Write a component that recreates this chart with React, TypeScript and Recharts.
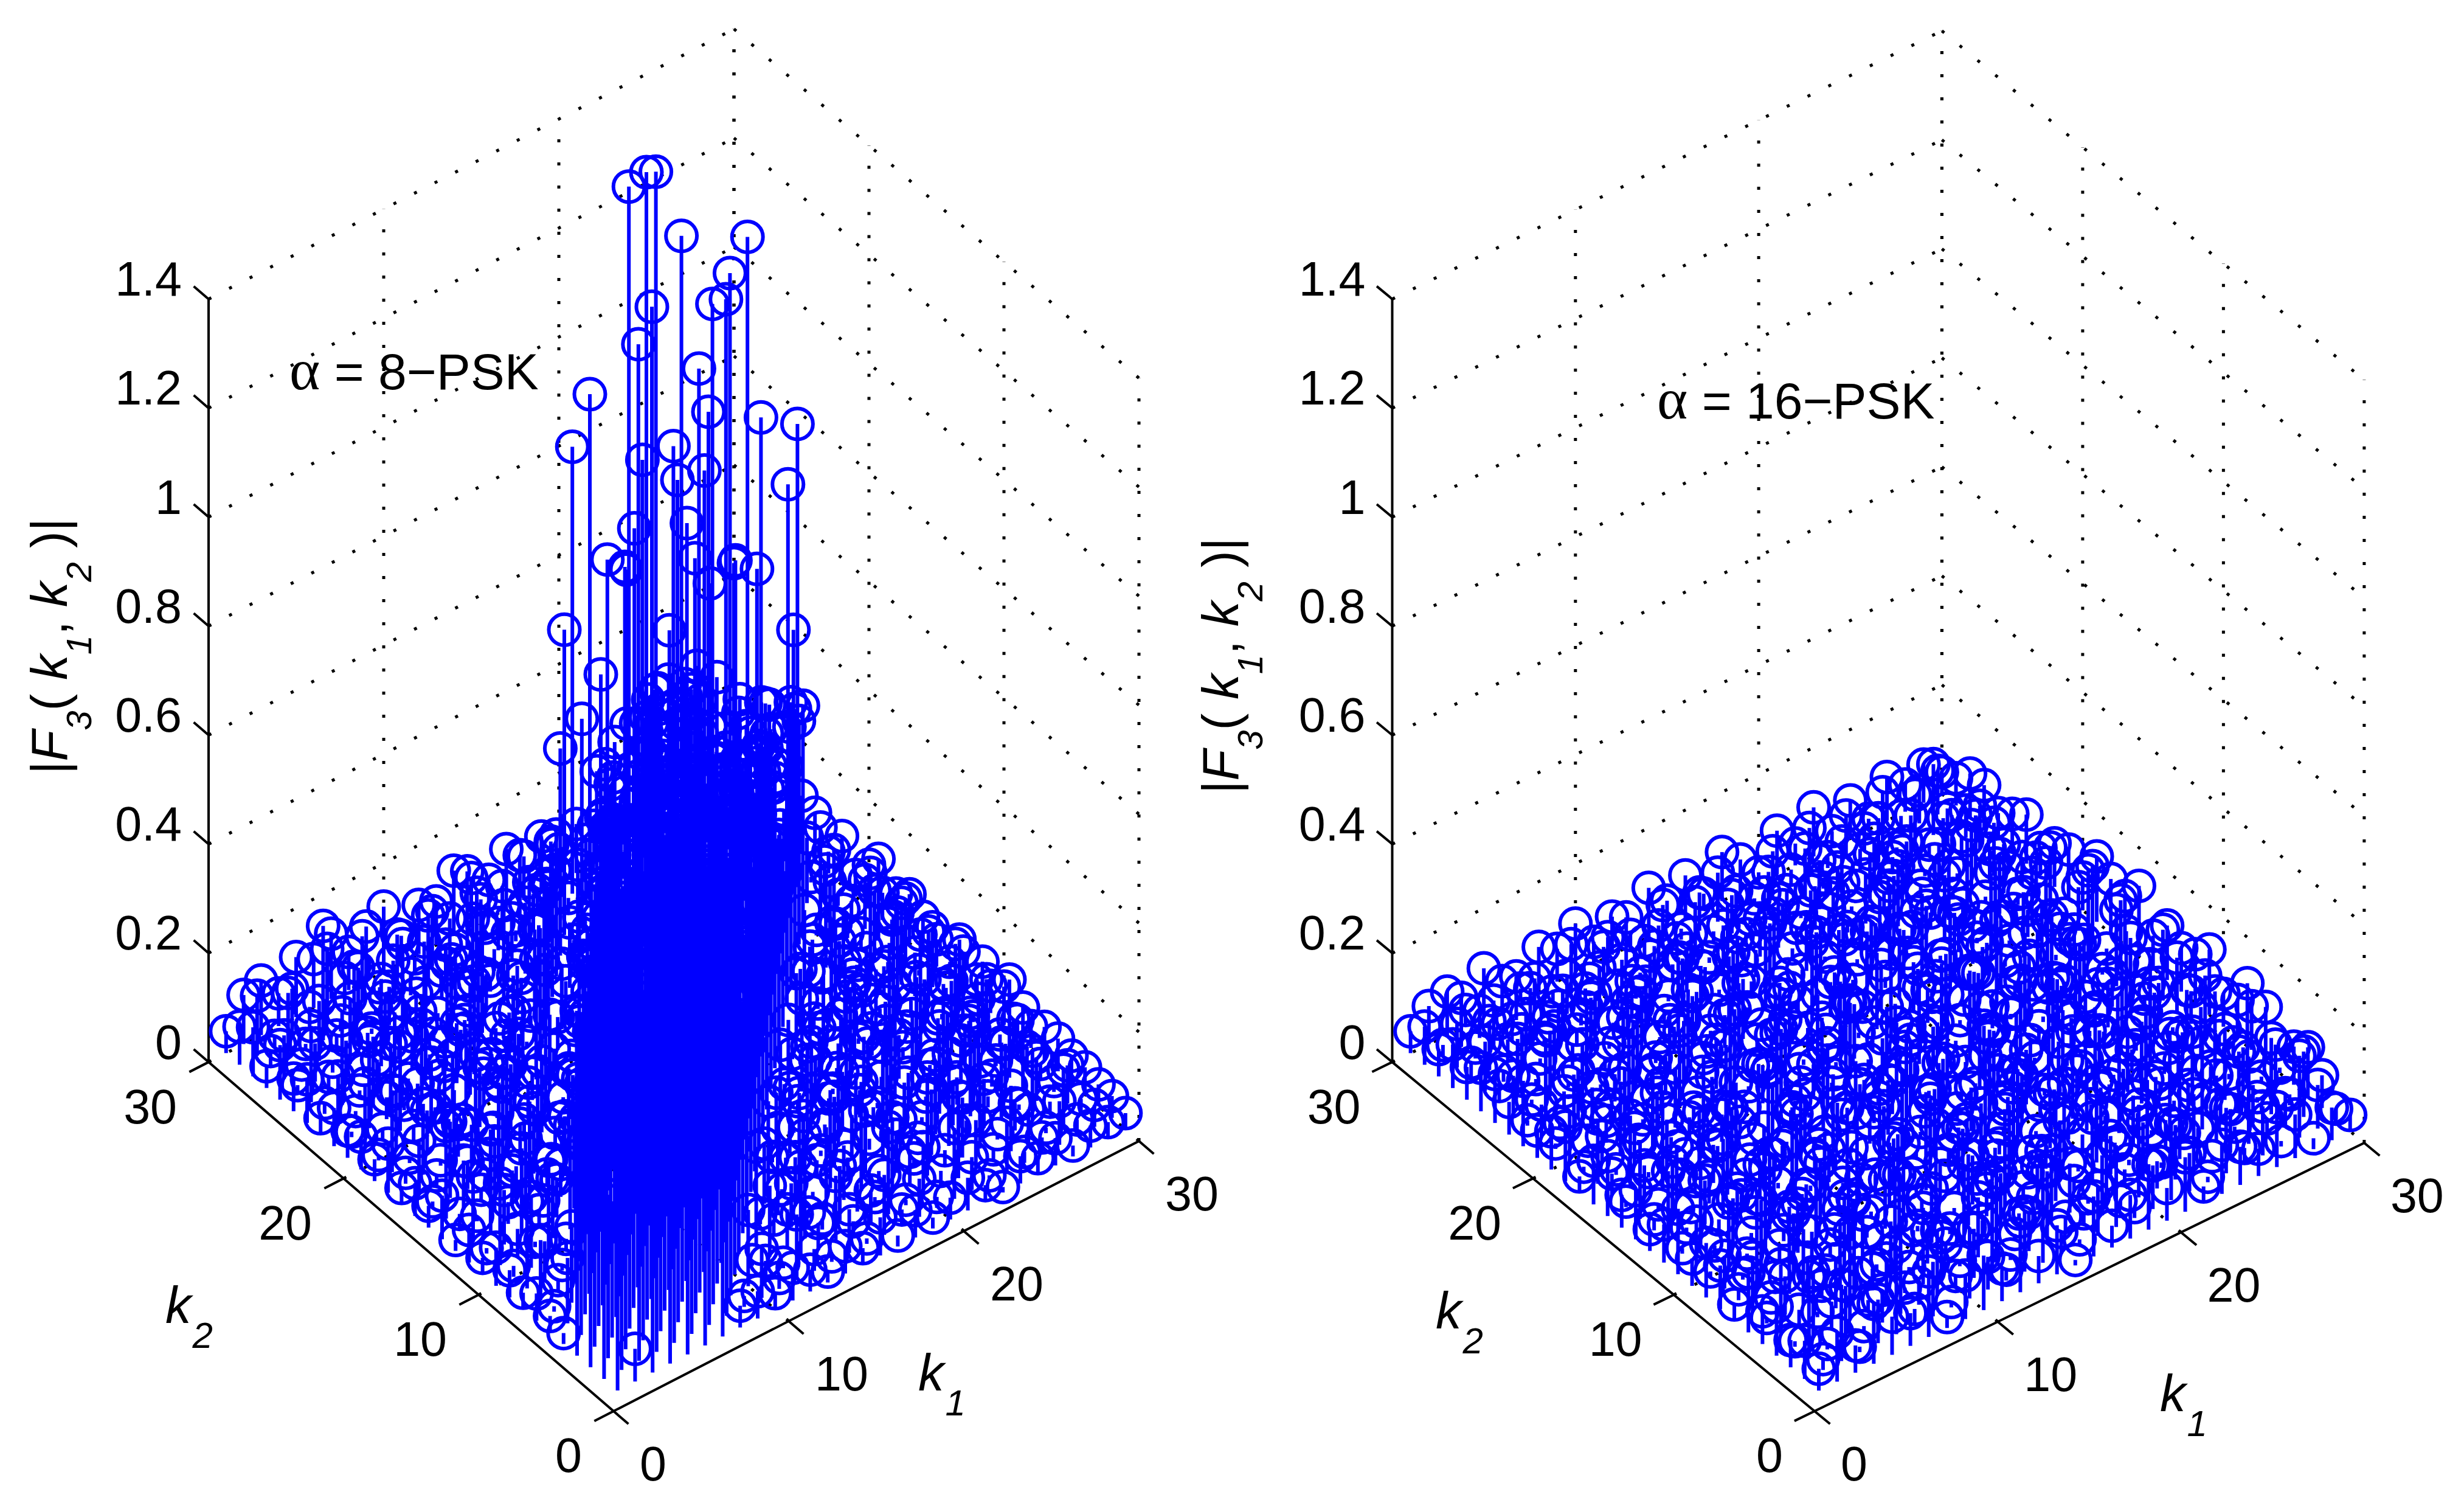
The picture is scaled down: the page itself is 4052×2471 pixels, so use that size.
import { ScatterChart, Scatter, XAxis, YAxis, ErrorBar, ReferenceLine } from 'recharts'

// |F3(k1,k2)|, in hundredths. One row per k2 = 1..30, one column per k1 = 1..30
const psk8Rows = [
  [58,6,72,95,41,83,62,4,5,3,6,4,2,5,3,7,2,5,2,4,6,3,1,5,3,5,2,4,3,3],
  [44,88,35,102,60,77,49,66,2,9,2,12,4,1,8,1,11,3,7,2,13,6,1,9,2,3,8,3,4,4],
  [52,30,96,47,110,71,38,85,54,14,3,1,17,5,12,2,6,16,1,9,3,15,9,2,12,6,1,10,3,4],
  [39,81,25,68,105,52,92,44,73,58,1,13,7,19,2,10,5,1,14,6,18,3,11,16,1,5,13,2,7,5],
  [2,46,75,33,99,64,112,50,86,37,69,18,3,8,1,15,10,20,2,7,1,12,17,3,9,14,1,8,2,5],
  [3,12,55,90,41,78,108,60,95,47,72,40,2,16,9,1,18,4,11,21,6,1,13,8,19,2,10,15,3,6],
  [5,1,14,48,84,36,94,66,100,53,79,31,62,11,1,17,3,13,8,2,22,9,1,16,5,12,2,18,4,6],
  [3,11,2,30,57,88,42,97,58,74,35,83,49,67,15,3,9,1,19,12,4,16,7,1,20,8,14,1,7,4],
  [5,16,7,1,44,70,92,38,80,59,96,27,71,45,60,1,12,18,2,10,5,1,21,14,3,11,6,17,2,3],
  [7,2,13,18,2,52,76,34,90,62,48,86,55,73,29,64,9,1,15,3,20,11,2,8,17,1,13,4,10,7],
  [3,15,5,1,11,19,42,82,58,28,91,67,40,79,51,36,70,14,2,8,1,18,6,12,2,21,4,16,1,5],
  [6,1,10,16,3,7,14,47,66,84,32,73,56,88,26,61,43,69,3,17,10,1,15,5,19,2,9,1,13,4],
  [2,12,19,4,14,1,6,20,38,72,50,83,25,64,78,41,58,30,66,11,2,16,7,1,12,20,3,14,2,7],
  [8,3,1,13,6,17,2,11,4,31,60,44,75,35,68,52,22,71,47,56,1,19,3,13,6,1,17,8,11,3],
  [4,17,9,2,20,3,12,1,16,7,45,28,63,54,37,74,49,60,24,65,39,12,2,18,1,10,5,15,1,5],
  [6,1,14,5,1,18,7,15,2,11,3,36,58,20,70,43,62,30,52,18,61,34,9,1,14,3,20,2,12,7],
  [3,10,2,16,8,1,21,4,13,1,19,6,26,49,61,33,54,17,67,41,28,57,44,16,2,7,1,13,6,9],
  [9,2,13,1,6,17,2,12,7,26,1,15,8,34,22,56,40,63,27,48,55,14,38,52,1,18,9,3,15,7],
  [4,15,1,8,19,3,11,1,18,5,14,2,20,3,30,46,19,59,36,24,50,42,31,16,47,3,12,1,9,5],
  [6,1,11,3,13,1,16,6,2,10,22,4,1,17,7,25,38,15,52,43,29,12,45,35,20,41,1,14,3,8],
  [5,12,2,18,7,1,9,20,4,1,13,24,6,2,11,15,20,33,44,14,37,26,18,40,28,11,40,16,2,4],
  [7,1,16,4,1,14,3,11,17,2,8,1,30,12,19,44,27,12,36,30,16,41,9,33,22,14,34,12,6,9],
  [3,9,1,13,10,2,18,1,6,15,3,11,2,24,5,8,58,19,31,10,35,24,13,29,18,30,11,48,1,4],
  [8,2,17,1,5,12,6,1,16,4,20,1,9,14,28,12,9,26,8,22,28,13,24,61,9,20,25,10,82,9],
  [6,14,3,8,1,16,2,10,1,13,2,7,18,3,11,26,5,19,23,68,11,21,9,18,25,6,16,22,9,10],
  [10,1,7,2,12,4,9,17,3,1,11,15,2,9,13,1,38,15,9,20,6,17,12,19,7,14,56,11,15,65],
  [4,8,1,11,3,14,1,7,2,12,5,1,16,4,8,13,11,56,38,8,16,68,107,46,64,72,10,6,49,9],
  [9,3,12,1,21,2,10,1,8,4,13,6,1,11,5,2,7,15,3,12,1,9,98,128,76,10,79,98,9,73],
  [7,11,2,9,4,13,6,12,1,9,3,10,7,14,2,8,12,4,6,82,90,58,55,73,14,66,50,95,99,104],
  [4,9,10,6,11,9,12,7,10,12,5,9,8,12,9,7,11,8,10,6,9,7,5,121,122,7,107,81,9,42],
]

const psk16Rows = [
  [4,9,5,11,7,6,12,2,8,10,6,13,5,9,1,11,4,8,12,6,10,3,9,7,5,11,8,2,6,3],
  [7,2,14,1,8,16,3,10,1,13,6,2,11,17,4,1,9,15,2,8,14,7,1,12,3,9,1,15,8,2],
  [5,15,1,10,1,6,18,4,12,2,9,16,1,7,13,3,2,11,1,17,5,10,14,1,8,16,3,6,12,6],
  [9,1,12,5,16,2,8,1,14,7,1,11,17,1,6,13,9,1,15,3,10,1,18,4,12,1,7,14,2,9],
  [6,13,3,1,9,18,4,11,1,6,2,15,3,10,1,8,17,2,12,7,1,14,5,1,16,3,11,1,9,7],
  [11,1,7,14,2,12,1,1,16,4,10,1,13,5,18,2,7,11,1,15,2,9,1,17,6,2,13,8,1,1],
  [3,10,1,16,5,1,13,8,2,12,1,18,1,9,3,15,1,6,14,3,10,16,2,7,1,12,4,1,16,10],
  [8,2,17,1,11,6,2,15,1,9,14,2,7,12,1,5,17,1,10,4,13,1,8,15,2,9,1,14,3,8],
  [10,6,1,13,3,9,16,1,5,1,12,3,18,1,8,11,2,14,1,7,16,1,3,11,13,1,6,9,2,7],
  [5,1,12,1,15,2,7,11,1,17,4,9,1,13,2,6,16,1,9,2,12,5,15,1,4,18,1,10,11,6],
  [12,8,2,9,1,14,1,5,13,2,1,16,6,1,11,1,8,17,3,10,1,14,2,7,12,1,9,1,6,12],
  [7,1,15,3,7,1,10,17,1,6,12,2,9,14,1,12,2,5,13,1,8,16,1,11,3,14,1,7,10,9],
  [4,13,1,8,14,2,6,1,12,3,16,1,4,10,17,1,9,1,15,2,11,1,14,5,1,8,16,2,13,8],
  [9,2,11,1,5,16,2,9,4,14,1,7,13,2,6,12,1,17,3,8,1,13,3,10,15,1,6,11,1,10],
  [6,14,1,10,2,7,12,1,16,1,8,15,1,5,1,13,4,9,1,16,2,7,18,1,5,11,2,14,3,6],
  [11,1,6,15,1,11,3,13,1,9,3,1,12,17,2,8,1,14,6,1,12,4,1,10,15,2,8,1,12,13],
  [8,4,13,1,9,1,17,5,2,11,15,1,6,1,14,2,10,1,2,13,1,8,16,3,1,12,6,17,1,9],
  [3,12,1,7,16,2,4,1,14,1,7,12,3,15,1,10,5,16,1,6,11,1,9,13,2,7,1,4,14,10],
  [10,1,5,13,1,8,11,2,6,16,1,2,10,1,7,12,1,14,3,9,1,15,2,6,1,12,9,2,8,12],
  [7,9,2,4,12,1,6,14,1,9,13,1,5,12,3,1,16,2,8,13,4,1,11,7,15,1,5,12,1,6],
  [5,1,12,8,3,15,1,7,12,1,4,14,2,9,1,15,6,1,12,2,9,14,1,6,1,13,3,8,11,9],
  [12,6,1,9,1,5,13,2,10,14,1,6,11,1,7,2,13,4,1,10,15,1,8,12,5,1,11,2,7,8],
  [6,1,14,3,10,1,7,12,1,5,9,1,13,2,14,1,4,11,8,1,6,13,2,3,10,13,1,9,5,5],
  [9,7,1,12,1,13,2,8,11,1,14,6,1,10,3,12,1,8,1,13,2,7,11,1,9,1,12,6,1,9],
  [8,3,10,1,9,4,11,1,7,9,2,10,7,1,9,5,10,2,11,6,1,9,4,10,2,8,1,10,7,7],
  [6,9,2,8,1,9,3,8,1,7,10,1,8,3,9,1,7,9,2,8,5,1,9,3,8,1,9,4,8,5],
  [8,3,9,4,7,1,8,2,9,4,1,8,3,7,1,9,2,8,4,1,9,6,1,8,3,9,2,7,5,8],
  [5,8,2,9,4,8,1,7,3,9,5,1,8,4,9,2,7,1,8,3,9,2,7,4,8,1,9,13,2,8],
  [7,2,9,5,1,8,6,2,9,1,7,9,3,8,2,7,9,4,1,8,3,9,2,8,4,9,3,6,8,5],
  [4,7,8,3,9,5,2,8,6,9,4,7,2,9,5,8,3,9,6,2,8,4,9,3,7,2,8,5,7,4],
]

const zTicks = [0, 0.2, 0.4, 0.6, 0.8, 1, 1.2, 1.4]
const kTicks = [0, 10, 20, 30]

const WIDTH = 2026
const HEIGHT = 2471

// screen direction of one k1 step, one k2 step and one unit of z
const leftView = { x0: 1009, y0: 2320, k1x: 28.8, k1y: -14.8, k2x: -22.2, k2y: -19.13, zy: -896 }
const rightView = { x0: 958, y0: 2320, k1x: 30.13, k1y: -14.7, k2x: -23.15, k2y: -19.13, zy: -896 }

type View = typeof leftView

function project(v: View, k1: number, k2: number, z: number) {
  return {
    sx: v.x0 + k1 * v.k1x + k2 * v.k2x,
    sy: HEIGHT - (v.y0 + k1 * v.k1y + k2 * v.k2y + z * v.zy),
  }
}

function buildStems(rows: number[][], v: View) {
  return rows.flatMap((row, r) =>
    row.map((val, c) => {
      const z = val / 100
      return { ...project(v, c + 1, r + 1, z), stem: [-z * v.zy, 0] }
    }),
  )
}

const marker = (p: any) => (
  <circle cx={p.cx} cy={p.cy} r={25.5} fill="none" stroke="#0000ff" strokeWidth={6} />
)

function seg(v: View, a: number[], b: number[]) {
  const p = project(v, a[0], a[1], a[2])
  const q = project(v, b[0], b[1], b[2])
  return [{ x: p.sx, y: p.sy }, { x: q.sx, y: q.sy }] as any
}

function gridSegments(v: View) {
  const out: any[] = []
  for (const z of zTicks) {
    out.push(seg(v, [0, 30, z], [30, 30, z]))
    out.push(seg(v, [30, 30, z], [30, 0, z]))
  }
  for (const k of kTicks) {
    if (k > 0) {
      out.push(seg(v, [k, 30, 0], [k, 30, 1.4]))
      out.push(seg(v, [30, k, 0], [30, k, 1.4]))
    }
  }
  out.push(seg(v, [30, 0, 0], [30, 0, 1.4]))
  for (const k of [10, 20]) {
    out.push(seg(v, [k, 0, 0], [k, 30, 0]))
    out.push(seg(v, [0, k, 0], [30, k, 0]))
  }
  return out
}

function axisSegments(v: View) {
  const out: any[] = [
    seg(v, [0, 30, 0], [0, 30, 1.4]),
    seg(v, [0, 0, 0], [30, 0, 0]),
    seg(v, [0, 0, 0], [0, 30, 0]),
  ]
  for (const z of zTicks) out.push(seg(v, [0, 30, z], [0, 31.1, z]))
  for (const k of kTicks) {
    out.push(seg(v, [k, 0, 0], [k, -1.1, 0]))
    out.push(seg(v, [0, k, 0], [-1.1, k, 0]))
  }
  return out
}

const sans = '"Liberation Sans", Arial, sans-serif'

function AxisTitle({ x, y, name, sub }: { x: number; y: number; name: string; sub: string }) {
  return (
    <text x={x} y={y} fontFamily={sans} fontStyle="italic" fontSize={85}>
      {name}
      <tspan fontSize={60} dx={2} dy={41}>{sub}</tspan>
    </text>
  )
}

function Panel({ left, rows, view, label, labelX, labelY, yX, yY, k1At, k2At }: any) {
  const stems = buildStems(rows, view)
  const toY = (sy: number) => HEIGHT - sy
  return (
    <div style={{ position: 'absolute', left, top: 0, width: WIDTH, height: HEIGHT }}>
      <ScatterChart width={WIDTH} height={HEIGHT} margin={{ top: 0, right: 0, bottom: 0, left: 0 }}>
        <XAxis type="number" dataKey="sx" domain={[0, WIDTH]} hide />
        <YAxis type="number" dataKey="sy" domain={[0, HEIGHT]} hide />
        {gridSegments(view).map((s, i) => (
          <ReferenceLine key={'g' + i} segment={s} stroke="#000" strokeWidth={5} strokeDasharray="5 33" />
        ))}
        {axisSegments(view).map((s, i) => (
          <ReferenceLine key={'a' + i} segment={s} stroke="#000" strokeWidth={4} />
        ))}
        <Scatter data={stems} shape={marker} isAnimationActive={false}>
          <ErrorBar dataKey="stem" direction="y" width={0} stroke="#0000ff" strokeWidth={6} isAnimationActive={false} />
        </Scatter>
      </ScatterChart>
      <svg width={WIDTH} height={HEIGHT} style={{ position: 'absolute', left: 0, top: 0, overflow: 'visible', pointerEvents: 'none' }}>
        {zTicks.map((z) => {
          const p = project(view, 0, 30, z)
          return (
            <text key={z} x={p.sx - 44} y={toY(p.sy) - 34} dy="0.36em" textAnchor="end" fontFamily={sans} fontSize={79}>
              {z}
            </text>
          )
        })}
        {kTicks.map((k) => {
          const p = project(view, k, 0, 0)
          return (
            <text key={k} x={p.sx + 43} y={toY(p.sy) + 86} dy="0.36em" fontFamily={sans} fontSize={79}>
              {k}
            </text>
          )
        })}
        {kTicks.map((k) => {
          const p = project(view, 0, k, 0)
          return (
            <text key={k} x={p.sx - 52} y={toY(p.sy) + 72} dy="0.36em" textAnchor="end" fontFamily={sans} fontSize={79}>
              {k}
            </text>
          )
        })}
        <AxisTitle x={k1At[0]} y={k1At[1]} name="k" sub="1" />
        <AxisTitle x={k2At[0]} y={k2At[1]} name="k" sub="2" />
        <text transform={`translate(${yX},${yY}) rotate(-90)`} fontFamily={sans} fontSize={83}>
          |<tspan fontStyle="italic">F</tspan>
          <tspan fontStyle="italic" fontSize={58} dy={40}>3</tspan>
          <tspan dy={-40}>( </tspan>
          <tspan fontStyle="italic">k</tspan>
          <tspan fontStyle="italic" fontSize={58} dy={40}>1</tspan>
          <tspan dy={-40}>, </tspan>
          <tspan fontStyle="italic">k</tspan>
          <tspan fontStyle="italic" fontSize={58} dy={40}>2</tspan>
          <tspan dy={-40}> )|</tspan>
        </text>
        <text x={labelX} y={labelY} fontFamily={sans} fontSize={84}>
          <tspan fontFamily='"Liberation Serif", serif' fontSize={96}>α</tspan> = {label}−PSK
        </text>
      </svg>
    </div>
  )
}

export default function App() {
  return (
    <div style={{ position: 'absolute', left: 0, top: 0, width: 4052, height: HEIGHT, background: '#fff', overflow: 'hidden' }}>
      <Panel
        left={0}
        rows={psk8Rows}
        view={leftView}
        label="8"
        labelX={476}
        labelY={640}
        yX={110}
        yY={1273}
        k1At={[1510, 2286]}
        k2At={[272, 2175]}
      />
      <Panel
        left={2026}
        rows={psk16Rows}
        view={rightView}
        label="16"
        labelX={699}
        labelY={688}
        yX={10}
        yY={1305}
        k1At={[1526, 2320]}
        k2At={[335, 2184]}
      />
    </div>
  )
}
